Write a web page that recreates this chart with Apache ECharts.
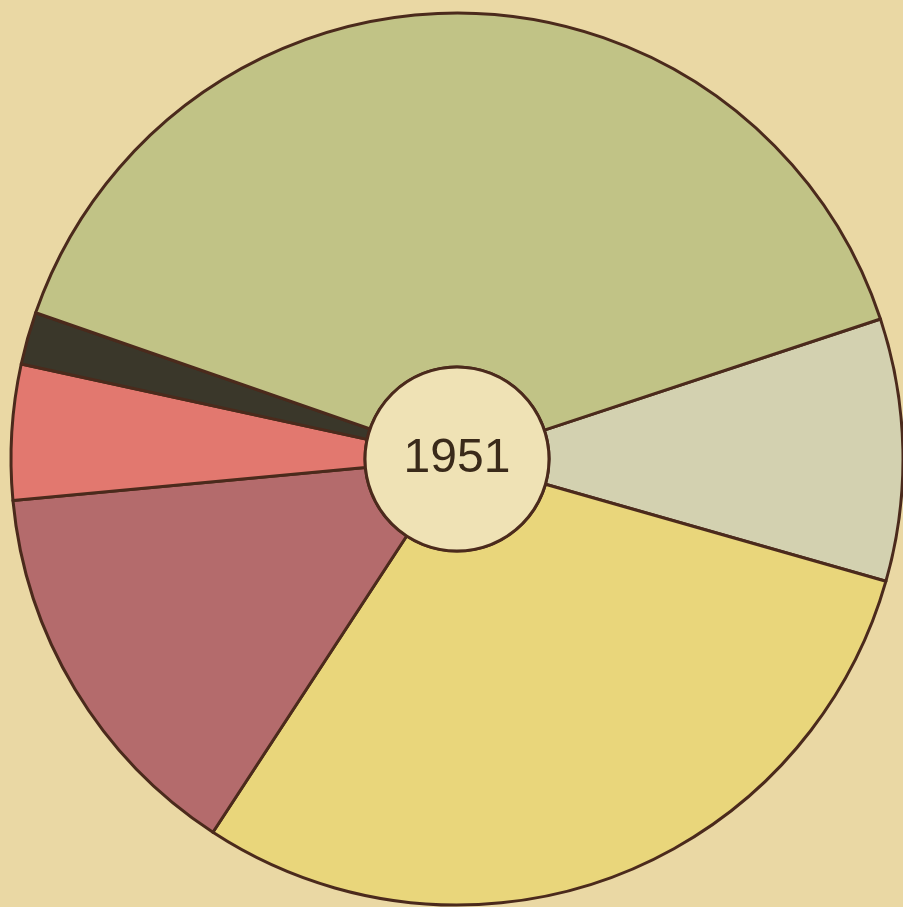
<!DOCTYPE html>
<html>
<head>
<meta charset="utf-8">
<title>1951</title>
<script src="https://cdn.jsdelivr.net/npm/echarts@6/dist/echarts.min.js"></script>
<style>
    html, body { margin: 0; padding: 0; background: #ead8a4; }
    #chart { width: 903px; height: 907px; }
</style>
</head>
<body>
<div id="chart"></div>
<script>
// 数据：从图中按角度估读（百分比）
const yearLabel = '1951';
const sliceNames = ['blue', 'yellow', 'purple', 'red', 'black', 'green'];
const sliceValues = [9.5, 29.8, 14.3, 4.9, 1.9, 39.6];
const sliceColors = ['#d3d1b0', '#e9d67b', '#b46b6c', '#e2786f', '#3a372a', '#c1c386'];

document.addEventListener('DOMContentLoaded', function() {
    initPieChart();
});

function initPieChart() {
    const chart = echarts.init(document.getElementById('chart'));

    const data = sliceNames.map(function(name, i) {
        return { name: name, value: sliceValues[i], itemStyle: { color: sliceColors[i] } };
    });

    const option = {
        backgroundColor: '#ead8a4',
        animation: false,
        series: [{
            type: 'pie',
            center: [457, 459],
            radius: [92, 446],
            startAngle: 18.3,
            clockwise: true,
            silent: true,
            label: { show: false },
            labelLine: { show: false },
            itemStyle: {
                borderColor: '#4b2a1c',
                borderWidth: 3
            },
            data: data
        }, {
            type: 'pie',
            center: [457, 459],
            radius: [0, 92],
            silent: true,
            itemStyle: {
                color: '#efe2b5',
                borderColor: '#4b2a1c',
                borderWidth: 3
            },
            label: {
                show: true,
                position: 'center',
                formatter: yearLabel,
                fontFamily: 'Liberation Sans, sans-serif',
                fontSize: 48,
                color: '#3a2a1a'
            },
            labelLine: { show: false },
            data: [{ name: yearLabel, value: 1 }]
        }]
    };

    chart.setOption(option);

    // 响应式
    window.addEventListener('resize', function() {
        chart.resize();
    });
}
</script>
</body>
</html>
